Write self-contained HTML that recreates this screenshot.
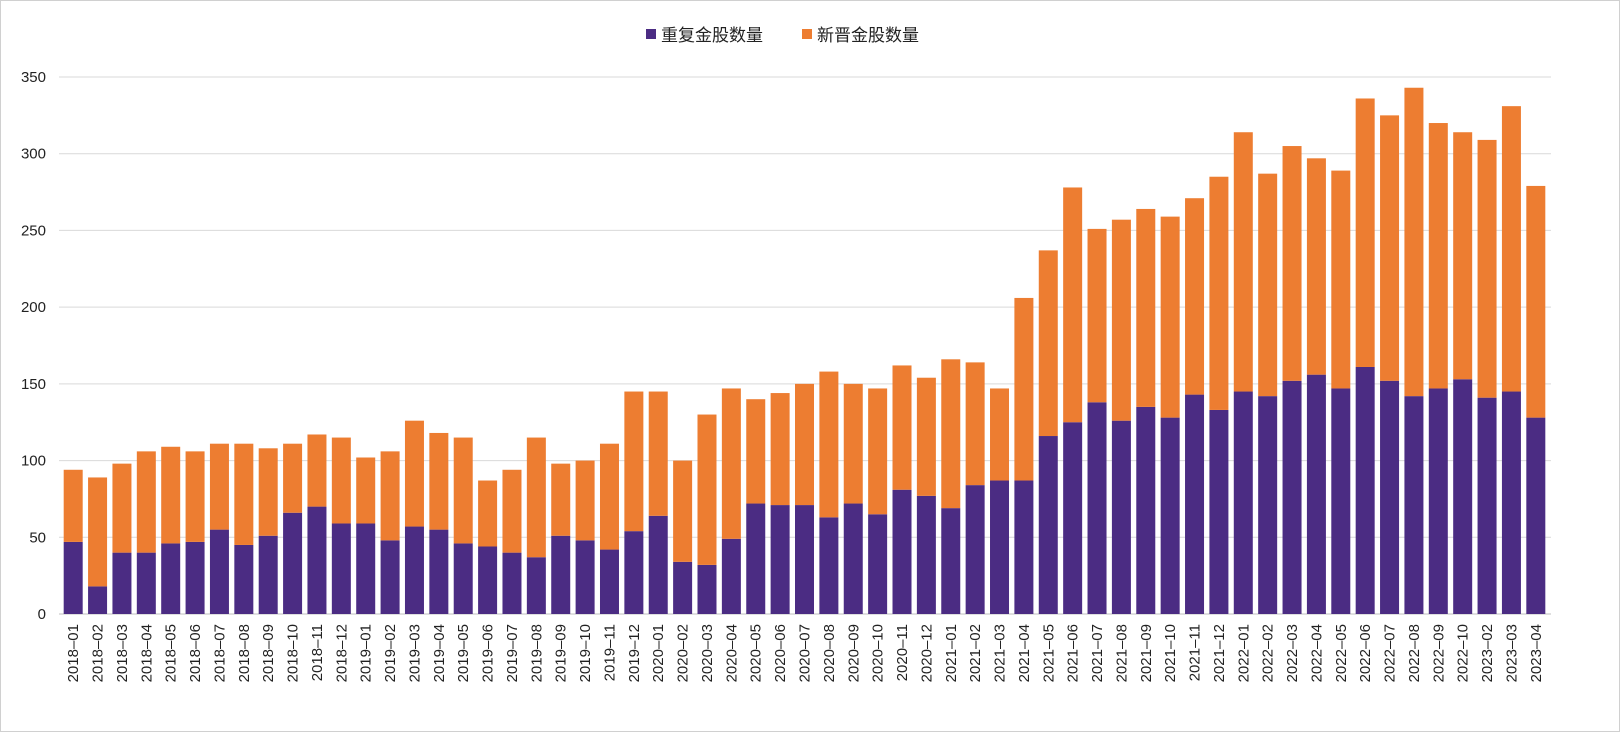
<!DOCTYPE html>
<html><head><meta charset="utf-8"><style>
body{margin:0;background:#fff;}
#wrap{position:relative;width:1620px;height:732px;overflow:hidden;background:#fff;box-sizing:border-box;border:1px solid #d0d0d0;}
svg text{font-family:"Liberation Sans","Noto Sans CJK SC",sans-serif;fill:#222;}
</style></head><body>
<div id="wrap">
<svg id="chart" width="1620" height="732"></svg>
</div>
<script>
const categories=["2018-01","2018-02","2018-03","2018-04","2018-05","2018-06","2018-07","2018-08","2018-09","2018-10","2018-11","2018-12","2019-01","2019-02","2019-03","2019-04","2019-05","2019-06","2019-07","2019-08","2019-09","2019-10","2019-11","2019-12","2020-01","2020-02","2020-03","2020-04","2020-05","2020-06","2020-07","2020-08","2020-09","2020-10","2020-11","2020-12","2021-01","2021-02","2021-03","2021-04","2021-05","2021-06","2021-07","2021-08","2021-09","2021-10","2021-11","2021-12","2022-01","2022-02","2022-03","2022-04","2022-05","2022-06","2022-07","2022-08","2022-09","2022-10","2023-02","2023-03","2023-04"];
const repeatCounts=[47,18,40,40,46,47,55,45,51,66,70,59,59,48,57,55,46,44,40,37,51,48,42,54,64,34,32,49,72,71,71,63,72,65,81,77,69,84,87,87,116,125,138,126,135,128,143,133,145,142,152,156,147,161,152,142,147,153,141,145,128];
const newCounts=[47,71,58,66,63,59,56,66,57,45,47,56,43,58,69,63,69,43,54,78,47,52,69,91,81,66,98,98,68,73,79,95,78,82,81,77,97,80,60,119,121,153,113,131,129,131,128,152,169,145,153,141,142,175,173,201,173,161,168,186,151];
const yTicks=[0,50,100,150,200,250,300,350];
const seriesNames=["重复金股数量","新晋金股数量"];

const NS="http://www.w3.org/2000/svg";
const svg=document.getElementById("chart");
const plotL=58,plotR=1550,y0=613,yTop=76,yMax=350;
const y=v=>y0-(v/yMax)*(y0-yTop);
const step=(1547-60)/categories.length;
const x=i=>60+step*(i+0.5);
const bw=19;
function mk(tag,attrs){const e=document.createElementNS(NS,tag);for(const k in attrs)e.setAttribute(k,attrs[k]);svg.appendChild(e);return e;}

yTicks.forEach(t=>{
  const g=mk("line",{x1:plotL,x2:plotR,y1:y(t),y2:y(t),stroke:t===0?"#bfbfbf":"#d9d9d9","stroke-width":1});
  
  
  const tx=mk("text",{x:45,y:y(t)+5,"text-anchor":"end","font-size":15});
  tx.textContent=t;
  
  
});

categories.forEach((c,i)=>{
  const cx=x(i);
  const r=mk("rect",{x:cx-bw/2,y:y(repeatCounts[i]),width:bw,height:y0-y(repeatCounts[i]),fill:"#4B2C83"});
  
  
  const tot=repeatCounts[i]+newCounts[i];
  const n=mk("rect",{x:cx-bw/2,y:y(tot),width:bw,height:y(repeatCounts[i])-y(tot),fill:"#ED7D31"});
  
  
  const t=mk("text",{x:0,y:0,"font-size":15,"text-anchor":"end",transform:`translate(${cx+5},${623}) rotate(-90)`});
  t.textContent=c.replace("-","–");
  
  
});

const legend=[[650,"#4B2C83",seriesNames[0]],[806,"#ED7D31",seriesNames[1]]];
legend.forEach(([lx,col,name],k)=>{
  const s=mk("rect",{x:lx-5,y:28,width:10,height:10,fill:col});
  
  
  const t=mk("text",{x:lx+10,y:40,"font-size":17});
  t.textContent=name;
  
  
});
</script>
</body></html>
